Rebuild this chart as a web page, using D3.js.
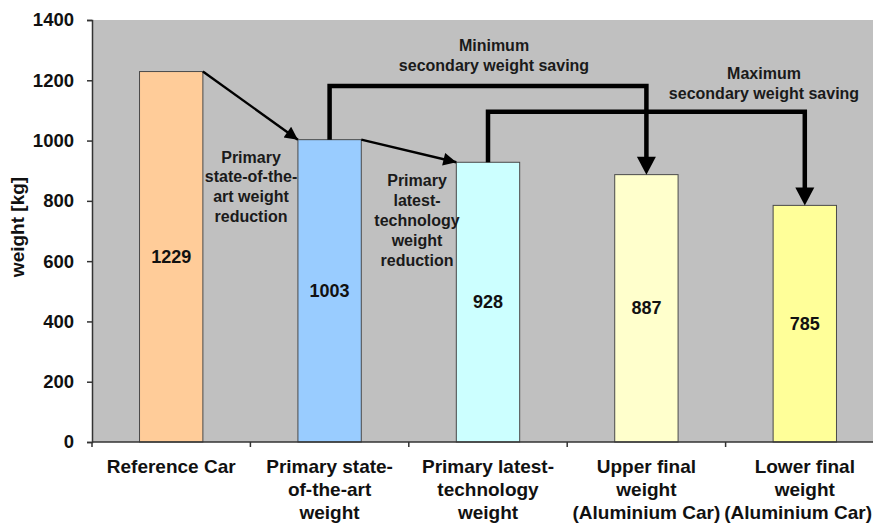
<!DOCTYPE html>
<html>
<head>
<meta charset="utf-8">
<script src="https://cdn.jsdelivr.net/npm/d3@7"></script>
<style>
  html, body { margin: 0; padding: 0; background: #fff; }
  svg { display: block; font-family: "Liberation Sans", Arial, sans-serif; }
</style>
</head>
<body>
<svg id="chart" width="873" height="525"></svg>
<script>
// Vehicle weight steps from the reference car to the aluminium car
const categories = [
  ["Reference Car"],
  ["Primary state-", "of-the-art", "weight"],
  ["Primary latest-", "technology", "weight"],
  ["Upper final", "weight", "(Aluminium Car)"],
  ["Lower final", "weight", "(Aluminium Car)"]
];
const weights = [1229, 1003, 928, 887, 785];
const barColors = ["#FFCC99", "#99CCFF", "#CCFFFF", "#FFFFCC", "#FFFF99"];
const yTicks = [0, 200, 400, 600, 800, 1000, 1200, 1400];

// Primary reductions: arrows between neighbouring bars
const primarySteps = [
  { from: 0, to: 1, text: ["Primary", "state-of-the-", "art weight", "reduction"] },
  { from: 1, to: 2, text: ["Primary", "latest-", "technology", "weight", "reduction"] }
];
// Secondary savings: bracket arrows running above the bars (level in kg)
const secondarySteps = [
  { from: 1, to: 3, level: 1181, text: ["Minimum", "secondary weight saving"] },
  { from: 2, to: 4, level: 1096, text: ["Maximum", "secondary weight saving"] }
];

const W = 873, H = 525;
const svg = d3.select("#chart");
const margin = { left: 92, top: 20, bottom: 83 };
const plotW = 792;

const x = d3.scaleBand().domain(d3.range(categories.length))
  .range([margin.left, margin.left + plotW]).paddingInner(0.6).paddingOuter(0.3);
const band = d3.scaleBand().domain(d3.range(categories.length))
  .range([margin.left, margin.left + plotW]);
const y = d3.scaleLinear().domain([0, 1400]).range([H - margin.bottom, margin.top]);

// plot background
svg.append("rect")
  .attr("x", margin.left).attr("y", y(1400))
  .attr("width", plotW).attr("height", y(0) - y(1400))
  .attr("fill", "#C0C0C0");

// arrowhead marker for the primary steps
svg.append("defs").append("marker").attr("id", "headThin")
  .attr("viewBox", "0 0 10 10").attr("refX", 10).attr("refY", 5)
  .attr("markerUnits", "userSpaceOnUse")
  .attr("markerWidth", 16).attr("markerHeight", 13).attr("orient", "auto")
  .append("path").attr("d", "M0,0L10,5L0,10Z").attr("fill", "#000");

// bars
svg.append("g").selectAll("rect").data(weights).join("rect")
  .attr("x", (d, i) => x(i)).attr("y", d => y(d))
  .attr("width", x.bandwidth()).attr("height", d => y(0) - y(d))
  .attr("fill", (d, i) => barColors[i])
  .attr("stroke", "#4a4a4a").attr("stroke-width", 1);

// bar value labels
svg.append("g").selectAll("text").data(weights).join("text")
  .attr("x", (d, i) => x(i) + x.bandwidth() / 2)
  .attr("y", d => (y(d) + y(0)) / 2 + 6)
  .attr("text-anchor", "middle")
  .attr("font-size", 18).attr("font-weight", "bold").attr("fill", "#111")
  .text(d => d);

// axes
const yAxis = svg.append("g").attr("transform", `translate(${margin.left},0)`)
  .call(d3.axisLeft(y).tickValues(yTicks).tickFormat(d3.format("d")).tickSize(5).tickPadding(13));
yAxis.select(".domain").attr("stroke", "#333").attr("stroke-width", 1.5);
yAxis.selectAll(".tick line").attr("stroke", "#333").attr("stroke-width", 1.5);
yAxis.selectAll(".tick text")
  .attr("font-size", 18.5).attr("font-weight", "bold").attr("fill", "#111")
  .attr("font-family", "Liberation Sans, Arial, sans-serif");

const xAxis = svg.append("g").attr("transform", `translate(0,${y(0)})`);
xAxis.append("line")
  .attr("x1", margin.left).attr("x2", margin.left + plotW)
  .attr("stroke", "#333").attr("stroke-width", 1.5);
xAxis.selectAll("line.tk").data(d3.range(categories.length + 1)).join("line")
  .attr("class", "tk")
  .attr("x1", i => margin.left + i * band.bandwidth())
  .attr("x2", i => margin.left + i * band.bandwidth())
  .attr("y1", 0).attr("y2", 5)
  .attr("stroke", "#333").attr("stroke-width", 1.5);

// category labels (lines nudged inward if they would run past the right edge)
const catText = svg.append("g").selectAll("text").data(categories).join("text")
  .attr("text-anchor", "middle")
  .attr("font-size", 19).attr("font-weight", "bold").attr("fill", "#111");
catText.each(function (lines, i) {
  const c = band(i) + band.bandwidth() / 2;
  d3.select(this).selectAll("tspan").data(lines).join("tspan")
    .attr("x", c)
    .attr("y", (l, k) => 473 + k * 23)
    .text(l => l)
    .each(function () {
      const w = this.getComputedTextLength();
      const over = c + w / 2 - (W - 1);
      if (over > 0) d3.select(this).attr("x", c - over);
    });
});

// y-axis title
svg.append("text")
  .attr("transform", `translate(24,${(y(0) + y(1400)) / 2 - 4}) rotate(-90)`)
  .attr("text-anchor", "middle")
  .attr("font-size", 19).attr("font-weight", "bold").attr("fill", "#111")
  .text("weight [kg]");

// primary reduction arrows (top-right corner to next bar's top-left corner)
svg.append("g").selectAll("line").data(primarySteps).join("line")
  .attr("x1", d => x(d.from) + x.bandwidth())
  .attr("y1", d => y(weights[d.from]))
  .attr("x2", d => x(d.to))
  .attr("y2", d => y(weights[d.to]))
  .attr("stroke", "#000").attr("stroke-width", 2.4)
  .attr("marker-end", "url(#headThin)");

// primary reduction labels
const primaryLabelPos = [{ cx: 251, cy: 157, gap: 19.7 }, { cx: 417, cy: 180, gap: 20 }];
primarySteps.forEach((s, i) => {
  const p = primaryLabelPos[i];
  svg.append("text").attr("text-anchor", "middle")
    .attr("font-size", 16).attr("font-weight", "bold").attr("fill", "#1a1a1a")
    .selectAll("tspan").data(s.text).join("tspan")
    .attr("x", p.cx).attr("y", (l, k) => p.cy + 5.5 + k * p.gap)
    .text(l => l);
});

// secondary saving brackets
const cx = i => x(i) + x.bandwidth() / 2;
const headW = 19, headH = 18;
const sec = svg.append("g");
secondarySteps.forEach(s => {
  const yl = y(s.level);
  const yEnd = y(weights[s.to]);
  sec.append("path")
    .attr("d", `M${cx(s.from)},${y(weights[s.from])}V${yl}H${cx(s.to)}V${yEnd - headH + 1}`)
    .attr("fill", "none").attr("stroke", "#000").attr("stroke-width", 4.5)
    .attr("stroke-linejoin", "miter");
  sec.append("path")
    .attr("d", `M${cx(s.to) - headW / 2},${yEnd - headH}L${cx(s.to) + headW / 2},${yEnd - headH}L${cx(s.to)},${yEnd}Z`)
    .attr("fill", "#000");
});

// secondary saving labels
const secondaryLabelPos = [{ cx: 494, cy: 45 }, { cx: 764, cy: 73 }];
secondarySteps.forEach((s, i) => {
  const p = secondaryLabelPos[i];
  svg.append("text").attr("text-anchor", "middle")
    .attr("font-size", 16).attr("font-weight", "bold").attr("fill", "#1a1a1a")
    .selectAll("tspan").data(s.text).join("tspan")
    .attr("x", p.cx).attr("y", (l, k) => p.cy + 5.5 + k * 20)
    .text(l => l);
});
</script>
</body>
</html>
